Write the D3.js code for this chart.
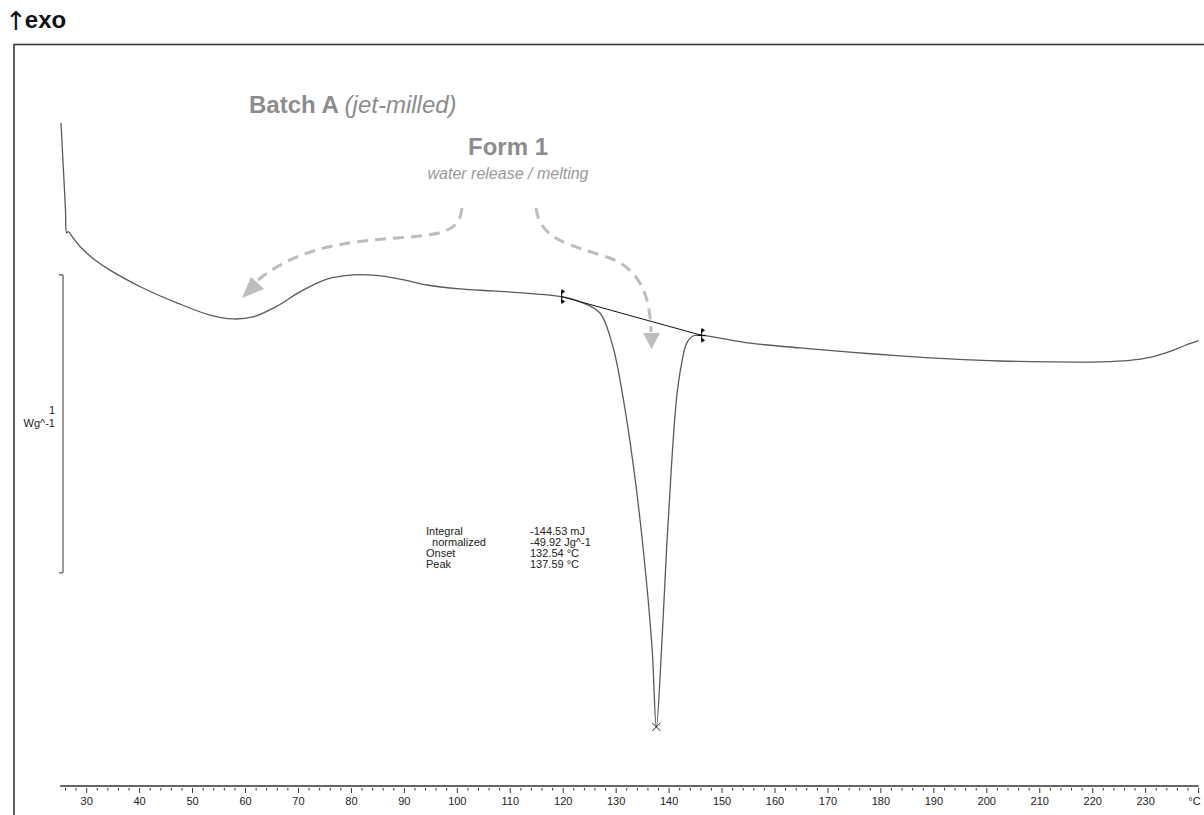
<!DOCTYPE html>
<html>
<head>
<meta charset="utf-8">
<script src="https://cdn.jsdelivr.net/npm/d3@7"></script>
<style>
  html, body { margin: 0; padding: 0; background: #fff; }
  svg { display: block; font-family: "Liberation Sans", Arial, sans-serif; }
</style>
</head>
<body>
<svg id="chart" width="1204" height="815"></svg>
<script>
// ---------------- data ----------------
// DSC heat flow curve: temperature (°C) and heat flow (W/g, relative)
const temperature = [25.15, 25.58, 26.0, 26.22, 26.53, 27.2, 28.73, 31.5, 34.4, 40.63, 47.05, 53.29, 57.63, 61.41, 65.94, 70.28, 75.38, 80.29, 84.07, 89.17, 94.27, 100.5, 106.73, 113.15, 119.71, 123.73, 126.94, 129.4, 131.29, 133.18, 135.07, 136.77, 137.59, 138.59, 139.54, 140.48, 141.43, 142.37, 143.32, 144.51, 146.15, 155.25, 164.7, 174.1, 183.6, 193.0, 202.5, 211.9, 221.4, 227.05, 230.8, 234.6, 237.4, 240.0];
const heatFlow    = [0.695, 0.547, 0.403, 0.326, 0.330, 0.315, 0.280, 0.236, 0.201, 0.141, 0.091, 0.050, 0.037, 0.044, 0.080, 0.128, 0.171, 0.185, 0.184, 0.171, 0.151, 0.138, 0.131, 0.123, 0.112, 0.091, 0.057, -0.057, -0.225, -0.446, -0.728, -1.064, -1.332, -1.064, -0.728, -0.446, -0.225, -0.111, -0.044, -0.020, -0.018, -0.044, -0.060, -0.074, -0.087, -0.097, -0.104, -0.107, -0.107, -0.102, -0.092, -0.072, -0.052, -0.036];

// integration limits (baseline) and peak
const baselineT = [119.71, 146.15];
const baselineV = [0.112, -0.018];
const peakT = 137.59, peakV = -1.332;

// x-axis ticks
const majorTicks = [30, 40, 50, 60, 70, 80, 90, 100, 110, 120, 130, 140, 150, 160, 170, 180, 190, 200, 210, 220, 230, 240];
const majorLabels = ["30","40","50","60","70","80","90","100","110","120","130","140","150","160","170","180","190","200","210","220","230","°C"];
const minorTicks = d3.range(26, 241, 2).filter(t => t % 10 !== 0);

// scale bar (1 W/g)
const scaleBarV = [0.185, -0.815];
const scaleBarLabel = ["1", "Wg^-1"];

// evaluation table
const resultNames  = ["Integral", "  normalized", "Onset", "Peak"];
const resultValues = ["-144.53 mJ", "-49.92 Jg^-1", "132.54 °C", "137.59 °C"];

// ---------------- scales ----------------
const svg = d3.select("#chart");
const x = d3.scaleLinear().domain([25, 240]).range([60.2, 1198.6]);
const y = d3.scaleLinear().domain([0, 1]).range([330, 32]);

// frame
svg.append("rect").attr("x", 14).attr("y", 44.5).attr("width", 1200).attr("height", 800)
  .attr("fill", "none").attr("stroke", "#3a3a3a").attr("stroke-width", 1.6);

// exo label (single text element)
const exo = svg.append("text").attr("x", 5).attr("y", 30).attr("fill", "#111");
exo.append("tspan").attr("font-size", 26).attr("font-family", "DejaVu Sans").text("↑");
exo.append("tspan").attr("font-size", 24).attr("font-weight", "bold").attr("dx", -2).attr("dy", -2).text("exo");

// x axis
const axisG = svg.append("g").attr("transform", "translate(0,786)");
axisG.append("line").attr("x1", x(25)).attr("x2", x(240)).attr("stroke", "#333").attr("stroke-width", 1.3);
axisG.selectAll(".minor").data(minorTicks).join("line")
  .attr("x1", d => x(d)).attr("x2", d => x(d)).attr("y1", 2).attr("y2", 4.5)
  .attr("stroke", "#333").attr("stroke-width", 1);
axisG.selectAll(".major").data(majorTicks).join("line")
  .attr("x1", d => x(d)).attr("x2", d => x(d)).attr("y1", 2).attr("y2", 7)
  .attr("stroke", "#333").attr("stroke-width", 1);
axisG.selectAll(".lbl").data(majorTicks).join("text")
  .attr("x", (d, i) => i === majorTicks.length - 1 ? x(d) + 2 : x(d))
  .attr("y", 19)
  .attr("text-anchor", (d, i) => i === majorTicks.length - 1 ? "end" : "middle")
  .attr("font-size", 11).attr("fill", "#222")
  .text((d, i) => majorLabels[i]);

// scale bar
const sb = svg.append("g");
sb.append("path")
  .attr("d", `M59,${y(scaleBarV[0])}H63V${y(scaleBarV[1])}H59`)
  .attr("fill", "none").attr("stroke", "#333").attr("stroke-width", 1);
sb.append("text").attr("x", 55).attr("y", 414).attr("text-anchor", "end").attr("font-size", 11)
  .attr("fill", "#222").text(scaleBarLabel[0]);
sb.append("text").attr("x", 55).attr("y", 427).attr("text-anchor", "end").attr("font-size", 11)
  .attr("fill", "#222").text(scaleBarLabel[1]);

// curve
const pts = temperature.map((t, i) => [t, heatFlow[i]]);
const line = d3.line().x(d => x(d[0])).y(d => y(d[1])).curve(d3.curveCatmullRom.alpha(0.5));
svg.append("path").datum(pts).attr("d", line)
  .attr("fill", "none").attr("stroke", "#5a5a5a").attr("stroke-width", 1.3);

// integration baseline
svg.append("line")
  .attr("x1", x(baselineT[0])).attr("y1", y(baselineV[0]))
  .attr("x2", x(baselineT[1])).attr("y2", y(baselineV[1]))
  .attr("stroke", "#111").attr("stroke-width", 1);

// limit markers
baselineT.forEach((t, i) => {
  const cx = x(t), cy = y(baselineV[i]);
  const g = svg.append("g").attr("fill", "#000").attr("stroke", "#000");
  g.append("line").attr("x1", cx).attr("x2", cx).attr("y1", cy - 6).attr("y2", cy + 6).attr("stroke-width", 1);
  g.append("path").attr("d", `M${cx},${cy-7}L${cx+3},${cy-5}L${cx},${cy-3}Z`).attr("stroke-width", 0.5);
  g.append("path").attr("d", `M${cx},${cy+3}L${cx+3},${cy+5}L${cx},${cy+7}Z`).attr("stroke-width", 0.5);
  if (i === 1) {
    g.append("line").attr("x1", cx - 4).attr("x2", cx + 4).attr("y1", cy).attr("y2", cy).attr("stroke-width", 1);
  }
});

// peak marker
{
  const px = x(peakT), py = y(peakV);
  svg.append("path").attr("d", `M${px-4},${py-4}L${px+4},${py+4}M${px-4},${py+4}L${px+4},${py-4}`)
    .attr("stroke", "#222").attr("stroke-width", 1);
}

// result table
const tbl = svg.append("g").attr("font-size", 11).attr("fill", "#222");
resultNames.forEach((n, i) => {
  tbl.append("text").attr("x", 426).attr("y", 535 + i * 11).attr("xml:space", "preserve").text(n);
  tbl.append("text").attr("x", 530).attr("y", 535 + i * 11).text(resultValues[i]);
});

// annotations
const annGray = "#8c8c8c";
const t1 = svg.append("text").attr("x", 249).attr("y", 113).attr("font-size", 24).attr("fill", annGray);
t1.append("tspan").attr("font-weight", "bold").text("Batch A ");
t1.append("tspan").attr("font-style", "italic").text("(jet-milled)");
svg.append("text").attr("x", 508).attr("y", 155).attr("text-anchor", "middle").attr("font-size", 24)
  .attr("font-weight", "bold").attr("fill", annGray).text("Form 1");
svg.append("text").attr("x", 508).attr("y", 179).attr("text-anchor", "middle").attr("font-size", 16)
  .attr("font-style", "italic").attr("fill", "#999").text("water release / melting");

// dashed arrows
const arrowColor = "#bdbdbd";
svg.append("path")
  .attr("d", "M462,208 C460,232 440,234 410,237 C350,241 300,246 258,280")
  .attr("fill", "none").attr("stroke", arrowColor).attr("stroke-width", 3).attr("stroke-dasharray", "11,7");
svg.append("path").attr("d", "M242,298 L251,277 L264,289 Z").attr("fill", arrowColor);

svg.append("path")
  .attr("d", "M536,208 C540,240 570,245 610,258 C640,270 650,295 651,332")
  .attr("fill", "none").attr("stroke", arrowColor).attr("stroke-width", 3).attr("stroke-dasharray", "11,7");
svg.append("path").attr("d", "M643,333 L660,333 L651.5,349 Z").attr("fill", arrowColor);
</script>
</body>
</html>
